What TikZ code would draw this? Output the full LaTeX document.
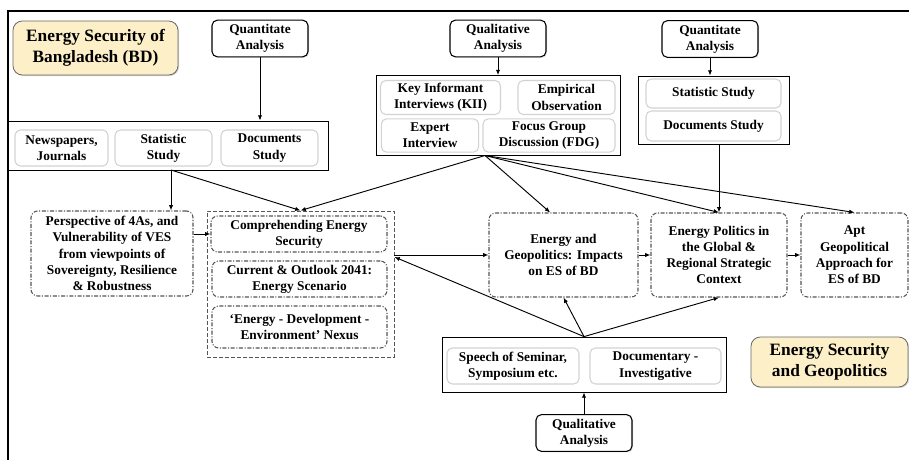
\documentclass[tikz,border=0pt]{standalone}
\usepackage{fontspec}
\setmainfont{Liberation Serif}
\usepackage{tikz}
\usetikzlibrary{arrows.meta,shadows}
\definecolor{titlefill}{HTML}{FDF0C9}
\definecolor{dashgray}{HTML}{555555}

\begin{document}
\begin{tikzpicture}[x=0.75pt,y=0.75pt,yscale=-1,xscale=1,
  every node/.style={font=\bfseries\fontsize{10}{12.2}\selectfont, align=center, inner sep=1pt},
  anabox/.style={draw, rounded corners=4pt, line width=0.8pt, fill=white, minimum width=72pt, minimum height=27.5pt, drop shadow={opacity=0.25, shadow xshift=0.8pt, shadow yshift=-0.8pt}},
  grpbox/.style={draw, line width=0.6pt},
  subbox/.style={draw=gray!35, rounded corners=4pt, line width=0.8pt},
  stepbox/.style={draw=dashgray, rounded corners=5pt, line width=0.8pt, dash pattern={on 3pt off 1.2pt on 0.8pt off 1.2pt}, fill=white},
  titlebox/.style={draw=gray!80!black, rounded corners=7pt, line width=0.6pt, fill=titlefill, font=\bfseries\fontsize{13}{16}\selectfont, drop shadow={opacity=0.35, shadow xshift=0.8pt, shadow yshift=-0.8pt}},
  arr/.style={-{Latex[length=4pt,width=3.2pt]}, line width=0.7pt}]
\useasboundingbox (0,0) rectangle (909,460);

%Frame
\draw [line width=1.5pt] (8,460) -- (8,11) -- (909,11) ;

% Title Nodes
\node [titlebox, minimum width=123.75pt, minimum height=40.5pt] (ttl) at (95.5,48) {Energy Security of\\Bangladesh (BD)};
\node [titlebox, minimum width=117.75pt, minimum height=37.5pt] (ttlgeo) at (829.5,362) {Energy Security\\and Geopolitics};

% Analysis Nodes
\node [anabox] (quantL) at (260,38.5) {Quantitate\\Analysis};
\node [anabox] (qualT) at (498,38.5) {Qualitative\\Analysis};
\node [anabox] (quantR) at (710,39) {Quantitate\\Analysis};
\node [anabox] (qualB) at (584,433) {Qualitative\\Analysis};

% Source Groups
\node [grpbox, minimum width=240pt, minimum height=36.75pt] (grpL) at (168,145.5) {};
\node [subbox, minimum width=69.75pt, minimum height=27pt] (news) at (61.5,148) {Newspapers,\\Journals};
\node [subbox, minimum width=72.75pt, minimum height=27pt] (statL) at (163.5,148) {Statistic\\Study};
\node [subbox, minimum width=72.75pt, minimum height=27pt] (docsL) at (269.5,148) {Documents\\Study};

\node [grpbox, minimum width=183pt, minimum height=60pt] (grpQ) at (498,115.5) {};
\node [subbox, minimum width=90pt, minimum height=25.5pt] (kii) at (440.5,97.5) {Key Informant\\Interviews (KII)};
\node [subbox, minimum width=72.75pt, minimum height=25.5pt] (emp) at (566.5,97.5) {Empirical\\Observation};
\node [subbox, minimum width=73pt, minimum height=25pt] (expert) at (430,135.5) {Expert\\Interview};
\node [subbox, minimum width=99pt, minimum height=25pt] (fdg) at (549,135.5) {Focus Group\\Discussion (FDG)};

\node [grpbox, minimum width=113.25pt, minimum height=51pt] (grpR) at (713.5,110) {};
\node [subbox, minimum width=101.25pt, minimum height=21.75pt] (statR) at (713.5,93.5) {Statistic Study};
\node [subbox, minimum width=101.25pt, minimum height=22.5pt] (docsR) at (713.5,126) {Documents Study};

\node [grpbox, minimum width=213pt, minimum height=41.25pt] (grpB) at (584,364.5) {};
\node [subbox, minimum width=99pt, minimum height=27pt] (speech) at (513,366) {Speech of Seminar,\\Symposium etc.};
\node [subbox, minimum width=98.25pt, minimum height=27pt] (docu) at (655.5,366) {Documentary -\\Investigative};

% Study Steps
\node [stepbox, minimum width=121.5pt, minimum height=63.75pt] (persp) at (112,253.5) {Perspective of 4As, and\\Vulnerability of VES\\from viewpoints of\\Sovereignty, Resilience\\\& Robustness};
\node [draw=dashgray, line width=0.7pt, dash pattern={on 3pt off 1.5pt}, minimum width=140.25pt, minimum height=109.5pt] (dgrp) at (300.5,284) {};
\node [stepbox, minimum width=132pt, minimum height=27pt] (comp) at (299,234) {Comprehending Energy\\Security};
\node [stepbox, minimum width=131.25pt, minimum height=27pt] (outlook) at (299.5,279) {Current \& Outlook 2041:\\Energy Scenario};
\node [stepbox, minimum width=131.25pt, minimum height=31.5pt] (nexus) at (299.5,327) {`Energy - Development -\\Environment' Nexus};
\node [stepbox, minimum width=111.75pt, minimum height=63pt] (geo) at (563.5,255) {Energy and\\Geopolitics: Impacts\\on ES of BD};
\node [stepbox, minimum width=102pt, minimum height=63pt] (pol) at (719,255) {Energy Politics in\\the Global \&\\Regional Strategic\\Context};
\node [stepbox, minimum width=80.25pt, minimum height=63pt] (apt) at (854.5,255) {Apt\\Geopolitical\\Approach for\\ES of BD};

% Branch Points
\coordinate (srcL) at (171,170);
\coordinate (srcQ) at (485,155.5);

%Straight Lines
\draw [arr] (quantL) -- (quantL.south |- grpL.north);
\draw [arr] (qualT) -- (qualT.south |- grpQ.north);
\draw [arr] (quantR) -- (quantR.south |- grpR.north);
\draw [arr] (srcL) -- (srcL |- persp.north);
\draw [arr] (srcL) -- (dgrp.north);
\draw [arr] (srcQ) -- (dgrp.north);
\draw [arr] (srcQ) -- ([xshift=-10pt]geo.north);
\draw [arr] (srcQ) -- (pol.north);
\draw [arr] (srcQ) -- (apt.north);
\draw [arr] (pol.north |- grpR.south) -- (pol.north);
\draw [arr] (persp.east |- comp.west) -- (comp.west);
\draw [arr] (dgrp.east |- geo.west) -- (geo.west);
\draw [arr] (grpB.north) -- ([yshift=1.5pt]dgrp.east |- geo.west);
\draw [arr] (grpB.north) -- (geo.south);
\draw [arr] (grpB.north) -- (pol.south);
\draw [arr] (qualB) -- (grpB);
\draw [arr] (geo) -- (pol);
\draw [arr] (pol) -- (apt);

\end{tikzpicture}
\end{document}
